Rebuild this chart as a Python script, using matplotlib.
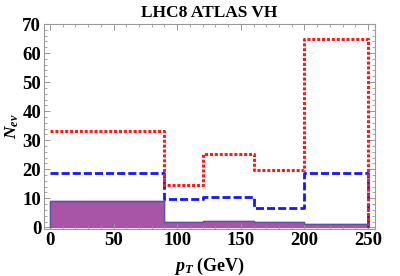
import numpy as np
import matplotlib.pyplot as plt
from matplotlib.ticker import MultipleLocator

# bin edges in pT (GeV) and event counts per bin
edges = [0, 90, 120, 160, 200, 250]
red_counts = [33.3, 14.6, 25.2, 19.7, 65.0]
blue_counts = [18.6, 9.6, 10.3, 6.5, 18.6]
purple_counts = [9.2, 1.8, 2.2, 1.8, 1.3]

plt.rcParams['font.family'] = ['Liberation Serif', 'DejaVu Serif']
plt.rcParams['mathtext.fontset'] = 'custom'
plt.rcParams['mathtext.it'] = 'Liberation Serif:italic:bold'
plt.rcParams['mathtext.rm'] = 'Liberation Serif:bold'

fig = plt.figure(figsize=(4, 2.76), dpi=100)
ax = fig.add_axes([0.11, 0.171, 0.8275, 0.742])


def step_xy(vals):
    x = [edges[0]] + list(np.repeat(edges[1:-1], 2)) + [edges[-1], edges[-1]]
    y = list(np.repeat(vals, 2)) + [0]
    x = [edges[0]] + x
    y = [0] + y
    return x, y


px, py = step_xy(purple_counts)
ax.fill(px, py, color='#a855a8', zorder=1)
ax.plot(px, py, color='#5b52a0', lw=1.0, zorder=2)

bx, by = step_xy(blue_counts)
ax.plot(bx[1:], by[1:], color='#1515ff', lw=2.0, dashes=(2.9, 1.1), zorder=3)

rx, ry = step_xy(red_counts)
ax.plot(rx[1:], ry[1:], color='#ff1a1a', lw=2.2, dashes=(1.0, 0.6), zorder=4)

ax.set_xlim(-4.7, 255.5)
ax.set_ylim(-0.5, 70)
ax.xaxis.set_major_locator(MultipleLocator(50))
ax.xaxis.set_minor_locator(MultipleLocator(10))
ax.yaxis.set_major_locator(MultipleLocator(10))
ax.yaxis.set_minor_locator(MultipleLocator(2))
ax.tick_params(which='both', direction='in', top=True, right=True,
               color='#999999', labelsize=13.5, pad=2)
ax.tick_params(which='major', length=4, width=0.7)
ax.tick_params(which='minor', length=2, width=0.6)
for lab in ax.get_xticklabels() + ax.get_yticklabels():
    lab.set_fontweight('bold')
for s in ax.spines.values():
    s.set_color('#999999')
    s.set_linewidth(0.8)

ax.set_title('LHC8 ATLAS VH', fontsize=12.5, fontweight='bold', pad=5)
ax.set_xlabel(r'$p_T$ (GeV)', fontsize=13, fontweight='bold')
ax.xaxis.set_label_coords(0.5, -0.13)
ax.set_ylabel(r'$N_{ev}$', fontsize=12.5, fontweight='bold')
ax.yaxis.set_label_coords(-0.07, 0.5)

fig.savefig('out.png', dpi=100)
